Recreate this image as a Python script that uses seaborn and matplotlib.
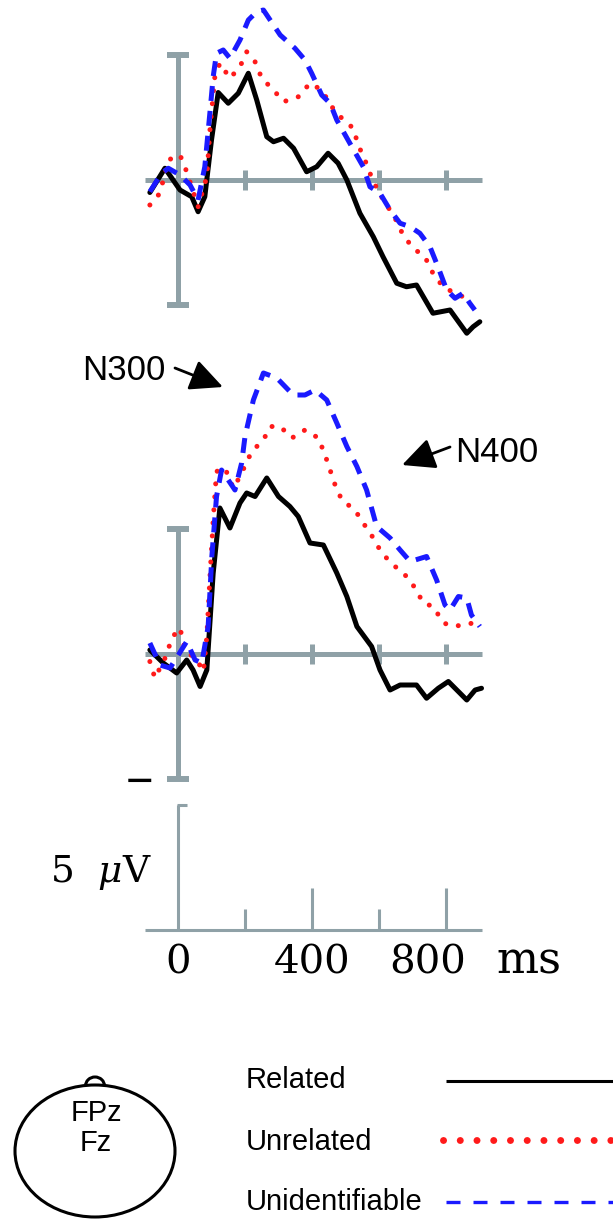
import pandas as pd
import seaborn as sns
import matplotlib.pyplot as plt
import matplotlib.colors as mcolors
from matplotlib.patches import Ellipse, Arc

conditions = ['Related', 'Unrelated', 'Unidentifiable']

# FPz (upper panel), time in ms, amplitude in microvolts
fpz_rel_t = [-84, -39, 6, 41, 60, 80, 100, 120, 150, 180, 210, 235, 265, 285, 315, 345, 384, 414,
             448, 478, 504, 543, 583, 612, 653, 682, 712, 761, 812, 862, 881, 901]
fpz_rel_v = [-0.5, 0.47, -0.4, -0.67, -1.27, -0.67, 1.6, 3.5, 3.07, 3.47, 4.27, 3.2, 1.73, 1.53, 1.67,
             1.27, 0.33, 0.53, 1.07, 0.67, 0.0, -1.33, -2.27, -3.07, -4.13, -4.27, -4.2, -5.33, -5.2,
             -6.13, -5.87, -5.67]
fpz_unr_t = [-84, -54, -29, 6, 26, 60, 86, 96, 110, 125, 155, 185, 205, 230, 250, 285, 315, 359, 394,
             429, 459, 489, 523, 538, 558, 573, 598, 623, 648, 672, 702, 737, 761, 791, 827, 851, 877]
fpz_unr_v = [-1.0, -0.53, 0.8, 1.0, 0.33, -1.07, 0.13, 2.13, 4.13, 4.67, 4.07, 4.53, 5.13, 4.73, 4.07,
             3.6, 3.13, 3.33, 3.87, 3.6, 2.93, 2.47, 2.07, 1.4, 0.8, 0.27, -0.47, -1.0, -1.53, -2.2,
             -2.73, -3.07, -3.73, -4.27, -4.53, -4.67, -4.6]
fpz_uni_t = [-84, -49, -29, 6, 36, 60, 80, 96, 105, 115, 135, 155, 185, 210, 235, 255, 275, 305, 349,
             379, 399, 429, 454, 474, 513, 553, 573, 603, 633, 663, 693, 722, 752, 776, 802, 827, 851,
             871, 886]
fpz_uni_v = [-0.47, 0.27, 0.47, 0.2, -0.2, -0.8, 0.53, 2.8, 4.13, 5.07, 5.2, 4.87, 5.6, 6.4, 6.73, 6.8,
             6.4, 5.8, 5.27, 4.8, 4.27, 3.4, 3.07, 2.4, 1.47, 0.53, -0.27, -0.53, -1.2, -1.73, -1.87,
             -2.13, -2.67, -3.47, -4.4, -4.73, -4.53, -4.93, -5.2]

# Fz (lower panel)
fz_rel_t = [-84, -44, -4, 26, 45, 66, 86, 105, 125, 155, 185, 205, 230, 265, 300, 334, 359, 394, 434,
            474, 504, 534, 578, 603, 633, 663, 712, 742, 777, 807, 842, 862, 887, 906]
fz_rel_v = [0.16, -0.36, -0.76, -0.24, -0.64, -1.3, -0.64, 3.23, 5.84, 5.04, 6.04, 6.44, 6.3, 7.04,
            6.3, 5.9, 5.5, 4.44, 4.36, 3.24, 2.3, 1.1, 0.3, -0.64, -1.44, -1.24, -1.24, -1.77, -1.37,
            -1.1, -1.57, -1.84, -1.44, -1.37]
fz_unr_t = [-84, -69, -34, -19, 6, 21, 56, 76, 86, 96, 105, 115, 140, 165, 185, 220, 255, 275, 305,
            340, 379, 419, 439, 469, 489, 528, 553, 583, 608, 643, 678, 708, 732, 762, 792, 827, 867, 901]
fz_unr_v = [-0.3, -0.96, -0.04, 0.64, 1.04, 0.16, -0.24, -0.7, 0.7, 3.24, 5.36, 7.3, 7.44, 6.64, 7.1,
            8.1, 8.56, 9.1, 9.1, 8.64, 8.96, 8.64, 7.96, 6.76, 6.16, 5.76, 5.24, 4.64, 4.04, 3.56,
            3.16, 2.64, 2.04, 1.9, 1.24, 1.1, 1.24, 1.16]
fz_uni_t = [-84, -54, -24, 1, 26, 51, 71, 90, 101, 115, 130, 150, 170, 190, 200, 225, 255, 295, 344,
            379, 409, 444, 474, 504, 534, 563, 593, 633, 663, 693, 742, 772, 797, 812, 837, 862, 876, 901]
fz_uni_v = [0.44, -0.44, -0.56, -0.04, 0.5, -0.24, -0.36, 1.1, 3.9, 6.3, 7.36, 6.96, 6.56, 7.64, 8.7,
            10.16, 11.24, 11.04, 10.36, 10.36, 10.56, 10.16, 9.24, 8.3, 7.5, 6.56, 5.1, 4.64, 4.16,
            3.7, 3.9, 2.96, 1.96, 1.76, 2.3, 2.24, 1.56, 1.1]

axis_ticks = [200, 400, 600, 800]
tick_labels = ['0', '400', '800']
electrodes = ['FPz', 'Fz']

GRAY = '#8fa1a7'
RED = '#ff1a1a'
BLUE = '#1a1aff'
palette = {'Related': 'black', 'Unrelated': RED, 'Unidentifiable': BLUE}
dashes = {'Related': '', 'Unrelated': (0.01, 2.6), 'Unidentifiable': (3.0, 2.0)}

W, H = 613, 1220
PX_UV = 25.0          # pixels per microvolt
PX_MS = 67.0 / 200    # pixels per ms
X_ZERO = 178          # pixel column of t = 0

sns.set_style('white')
plt.rcParams['font.family'] = ['Liberation Sans', 'DejaVu Sans']
plt.rcParams['mathtext.fontset'] = 'dejavuserif'
plt.rcParams['text.color'] = 'black'

fig = plt.figure(figsize=(W / 100, H / 100), dpi=100)


def panel(x0, y0, x1, y1, zero_y):
    ax = fig.add_axes([x0 / W, 1 - y1 / H, (x1 - x0) / W, (y1 - y0) / H])
    ax.set_xlim((x0 - X_ZERO) / PX_MS, (x1 - X_ZERO) / PX_MS)
    ax.set_ylim((zero_y - y1) / PX_UV, (zero_y - y0) / PX_UV)
    ax.set_axis_off()
    return ax


def erp(ax, rel, unr, uni):
    frames = []
    for cond, (t, v) in zip(conditions, [rel, unr, uni]):
        frames.append(pd.DataFrame({'time': t, 'amp': v, 'condition': cond}))
    df = pd.concat(frames, ignore_index=True)
    sns.lineplot(data=df, x='time', y='amp', hue='condition', style='condition',
                 hue_order=conditions, style_order=conditions, palette=palette,
                 dashes=dashes, lw=3.6, estimator=None, sort=False, legend=False,
                 ax=ax, zorder=3)
    for line in ax.lines:
        if mcolors.same_color(line.get_color(), RED):
            line.set_dash_capstyle('round')
        else:
            line.set_dash_capstyle('butt')
        line.set_solid_capstyle('round')
        line.set_solid_joinstyle('round')
    kw = dict(color=GRAY, lw=3.6, solid_capstyle='butt', zorder=1)
    ax.plot([-99, 907], [0, 0], **kw)
    ax.plot([0, 0], [-5, 5], **kw)
    for y in (-5, 5):
        ax.plot([-33, 33], [y, y], color=GRAY, lw=4.3, solid_capstyle='butt', zorder=1)
    for t in axis_ticks:
        ax.plot([t, t], [-0.4, 0.4], **kw)


ax1 = panel(130, 0, 500, 345, 180)
erp(ax1, (fpz_rel_t, fpz_rel_v), (fpz_unr_t, fpz_unr_v), (fpz_uni_t, fpz_uni_v))

ax2 = panel(0, 345, 613, 795, 654)
erp(ax2, (fz_rel_t, fz_rel_v), (fz_unr_t, fz_unr_v), (fz_uni_t, fz_uni_v))
ax2.text(-116, -5.2, '\u2212', fontsize=34, ha='center', va='center')

arrow = dict(arrowstyle='-|>,head_length=0.5,head_width=0.24', color='black', lw=2,
             shrinkA=0, shrinkB=0, mutation_scale=40)
ax2.text(-287, 10.96, 'N300', fontsize=25, va='baseline')
ax2.annotate('', xy=(134, 10.68), xytext=(-9, 11.44), arrowprops=arrow)
ax2.text(827, 7.68, 'N400', fontsize=25, va='baseline')
ax2.annotate('', xy=(669, 7.56), xytext=(812, 8.28), arrowprops=arrow)

# calibration bar
ax3 = panel(0, 795, 613, 1000, 930)
kw = dict(color=GRAY, lw=2.2, solid_capstyle='butt')
ax3.plot([-99, 907], [0, 0], **kw)
ax3.plot([0, 0], [0, 5], **kw)
ax3.plot([-3, 27], [5, 5], **kw)
for t in axis_ticks:
    ax3.plot([t, t], [0, 1.68 if t % 400 == 0 else 0.84], **kw)
serif = dict(family='DejaVu Serif', va='baseline')
ax3.text(-382, 1.9, '5  $\\mu$V', ha='left', fontsize=27, **serif)
for lab in tick_labels:
    x = int(lab)
    if x == 800:
        x = 746
    ax3.text(x, -1.72, lab, ha='center', fontsize=29, **serif)
ax3.text(952, -1.72, 'ms', ha='left', fontsize=32, **serif)

# head and legend
ax4 = fig.add_axes([0, 0, 1, 180 / H])
ax4.set_xlim(0, W)
ax4.set_ylim(1220, 1040)
ax4.set_axis_off()
ax4.add_patch(Ellipse((95, 1151), 160, 132, fill=False, ec='black', lw=2.2))
ax4.add_patch(Arc((95, 1086), 19, 18, theta1=180, theta2=360, ec='black', lw=2.2))
ax4.text(96, 1121, electrodes[0], fontsize=21, ha='center', va='baseline')
ax4.text(96, 1151, electrodes[1], fontsize=21, ha='center', va='baseline')

for cond, base in zip(conditions, [1088, 1150, 1210]):
    ax4.text(246, base, cond, fontsize=21, va='baseline')
ax4.plot([446, 640], [1081, 1081], color='black', lw=2.2, solid_capstyle='butt')
ax4.plot([443, 640], [1140, 1140], color=RED, lw=5, dashes=(0.01, 2.4), dash_capstyle='round')
ax4.plot([446, 640], [1202, 1202], color=BLUE, lw=2.4, dashes=(4.2, 3.9), dash_capstyle='butt')

fig.savefig('out.png', dpi=100)
